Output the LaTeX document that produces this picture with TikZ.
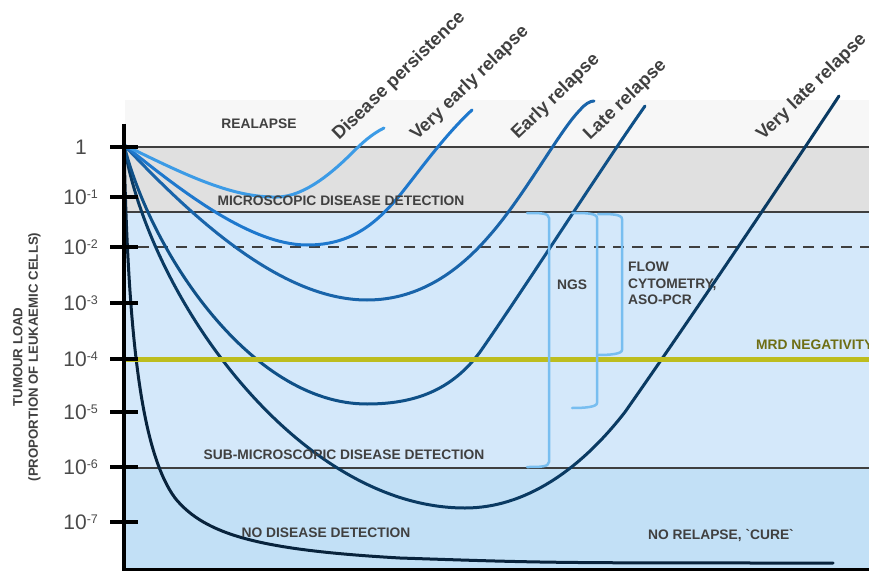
\documentclass[tikz,border=0pt]{standalone}
\usepackage{fontspec}
\setmainfont{Liberation Sans}
\definecolor{tgrey}{HTML}{404040}
\definecolor{ngrey}{HTML}{4A4A4A}
\definecolor{lgrey}{HTML}{3F3F3F}
\definecolor{bgtop}{HTML}{F7F7F7}
\definecolor{bgband}{HTML}{E0E0E0}
\definecolor{bgblue}{HTML}{D4E8FA}
\definecolor{bgdeep}{HTML}{C2E0F6}
\definecolor{mrd}{HTML}{BDBD1E}
\definecolor{mrdtext}{HTML}{6E6E14}
\definecolor{bcol}{HTML}{78BEF0}
\definecolor{cA}{HTML}{3C9BE6}
\definecolor{cB}{HTML}{1E78CD}
\definecolor{cC}{HTML}{1964AA}
\definecolor{cD}{HTML}{0F5087}
\definecolor{cE}{HTML}{0A3A62}
\definecolor{cF}{HTML}{08233C}
\newcommand{\tenpow}[1]{10\rlap{\raisebox{6pt}{\fontsize{12.5}{12.5}\selectfont -#1}}}
\begin{document}
\begin{tikzpicture}[x=1pt,y=-1pt,
  lbl/.style={font=\fontsize{13.8}{15}\selectfont\bfseries, text=tgrey, inner sep=0},
  rot/.style={font=\fontsize{18.3}{18.3}\selectfont\bfseries, text=tgrey, inner sep=0, rotate=44, anchor=base west},
  tickmark/.style={line width=4pt, black},
  tlab/.style={font=\fontsize{21}{21}\selectfont, text=ngrey, inner sep=0, anchor=base east},
  curve/.style={line width=3pt, line cap=round},
  brk/.style={line width=2.5pt, bcol, line cap=round, line join=round},
  hline/.style={line width=2pt, lgrey}]
\useasboundingbox (0,0) rectangle (869,572);
% backgrounds
\fill[bgtop] (125,100) rectangle (869,147);
\fill[bgband] (125,147) rectangle (869,212);
\fill[bgblue] (125,212) rectangle (869,468);
\fill[bgdeep] (125,468) rectangle (869,568);
% horizontal lines
\draw[hline] (124,147) -- (869,147);
\draw[hline] (124,212) -- (869,212);
\draw[hline] (124,468) -- (869,468);
\draw[line width=2.5pt, lgrey, dash pattern=on 11pt off 8pt] (138,247) -- (869,247);
% curves
\draw[curve, cF] (124,145) .. controls (128,330) and (140,450) .. (175,498)
  .. controls (205,535) and (260,550) .. (400,558) .. controls (550,563) .. (833,563);
\draw[curve, cE] (124,145) .. controls (150,300) and (300,508) .. (465,508)
  .. controls (525,508) and (580,470) .. (625,412) .. controls (700,305) and (790,170) .. (839,96);
\draw[curve, cD] (124,145) .. controls (150,250) and (250,404) .. (367,404)
  .. controls (415,404) and (452,390) .. (480,352) .. controls (530,280) and (600,170) .. (645,106);
\draw[curve, cC] (124,145) .. controls (190,215) and (280,300) .. (367,300)
  .. controls (420,300) and (460,270) .. (490,235) .. controls (525,195) and (560,130) .. (580,110)
  .. controls (585,104) and (590,101) .. (594,101);
\draw[curve, cB] (124,145) .. controls (180,190) and (250,245) .. (307,245)
  .. controls (350,245) and (375,225) .. (400,195) .. controls (420,170) and (445,135) .. (472,110);
\draw[curve, cA] (124,145) .. controls (180,172) and (230,198) .. (277,197)
  .. controls (305,197) and (335,170) .. (352,153) .. controls (363,142) and (372,134) .. (384,128);
% MRD line
\draw[line width=5pt, mrd] (126,359) -- (869,359);
% brackets
\draw[brk] (527,213) .. controls (540,213) and (549,213) .. (549,218) -- (549,462)
  .. controls (549,467) and (540,467) .. (527,467);
\draw[brk] (572,213) .. controls (585,213) and (597,213) .. (597,218) -- (597,403)
  .. controls (597,407) and (585,408) .. (572,408);
\draw[brk] (598,214) .. controls (610,214) and (622,214) .. (622,219) -- (622,350)
  .. controls (622,354) and (610,355) .. (598,355);
% axes
\draw[line width=3pt, black] (122,569.5) -- (869,569.5);
\draw[line width=4pt, black] (124,124) -- (124,571);
\foreach \yy in {147,197,247,303,359,412,467,522}
  \draw[tickmark] (110,\yy) -- (138,\yy);
% tick labels
\node[tlab] (t0) at (87,154.5) {1};
\node[tlab] (t1) at (87,204.5) {\tenpow{1}};
\node[tlab] (t2) at (87,254.5) {\tenpow{2}};
\node[tlab] (t3) at (87,310.5) {\tenpow{3}};
\node[tlab] (t4) at (87,366.5) {\tenpow{4}};
\node[tlab] (t5) at (87,419.5) {\tenpow{5}};
\node[tlab] (t6) at (87,474.5) {\tenpow{6}};
\node[tlab] (t7) at (87,529.5) {\tenpow{7}};
% axis title
\node[lbl, rotate=90, align=center, font=\fontsize{13.2}{15.5}\selectfont\bfseries] (ytitle) at (27,357)
  {TUMOUR LOAD\\(PROPORTION OF LEUKAEMIC CELLS)};
% region labels
\node[lbl] (relapse) at (259,124) {REALAPSE};
\node[lbl] (micro) at (341,201) {MICROSCOPIC DISEASE DETECTION};
\node[lbl] (submicro) at (344,455) {SUB-MICROSCOPIC DISEASE DETECTION};
\node[lbl] (nodis) at (326,533) {NO DISEASE DETECTION};
\node[lbl] (cure) at (721,536) {NO RELAPSE, \textasciigrave CURE\textasciigrave};
\node[lbl] (ngs) at (572,285) {NGS};
\node[lbl, align=left, anchor=north west, font=\fontsize{13.8}{16.5}\selectfont\bfseries] (flow) at (628,262)
  {FLOW\\CYTOMETRY,\\ASO-PCR};
\node[lbl, text=mrdtext, anchor=west] (mrdlbl) at (756,345) {MRD NEGATIVITY};
% curve labels
\node[rot] (lp) at (339,141) {Disease persistence};
\node[rot] (lve) at (417,141) {Very early relapse};
\node[rot] (le) at (518,140) {Early relapse};
\node[rot] (ll) at (590,141) {Late relapse};
\node[rot] (lvl) at (763,141) {Very late relapse};
\end{tikzpicture}
\end{document}
